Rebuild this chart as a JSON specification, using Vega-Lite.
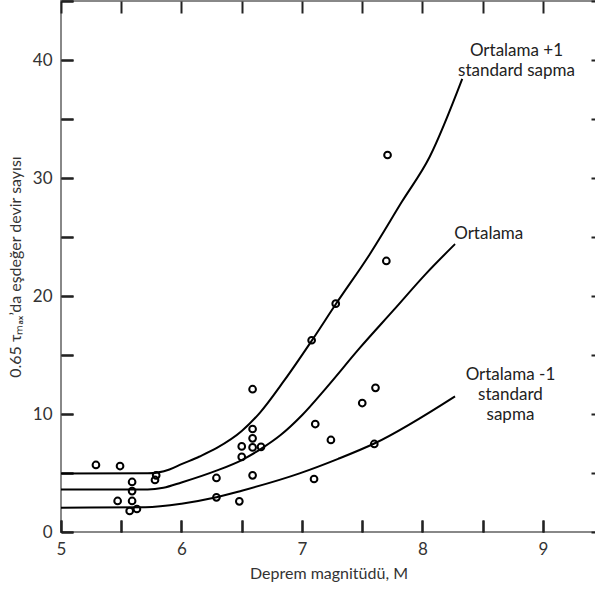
{
  "$schema": "https://vega.github.io/schema/vega-lite/v6.json",
  "width": 535,
  "height": 531,
  "autosize": "none",
  "padding": {"left": 61, "top": 1, "right": 0, "bottom": 59},
  "background": "white",
  "config": {"view": {"stroke": "#888888", "strokeWidth": 2}, "font": "Lato"},
  "datasets": {
    "curves": [
      {"series": "upper", "m": 5.0, "n": 4.95},
      {"series": "upper", "m": 5.72, "n": 4.97},
      {"series": "upper", "m": 5.9, "n": 5.3},
      {"series": "upper", "m": 6.0, "n": 5.75},
      {"series": "upper", "m": 6.15, "n": 6.4},
      {"series": "upper", "m": 6.29, "n": 7.1},
      {"series": "upper", "m": 6.5, "n": 8.55},
      {"series": "upper", "m": 6.65, "n": 10.1},
      {"series": "upper", "m": 6.85, "n": 12.8},
      {"series": "upper", "m": 7.08, "n": 16.2},
      {"series": "upper", "m": 7.28, "n": 19.3},
      {"series": "upper", "m": 7.56, "n": 23.5},
      {"series": "upper", "m": 7.83, "n": 28.0},
      {"series": "upper", "m": 8.06, "n": 31.8},
      {"series": "upper", "m": 8.33, "n": 38.4},
      {"series": "mean", "m": 5.0, "n": 3.6},
      {"series": "mean", "m": 5.72, "n": 3.6},
      {"series": "mean", "m": 5.85, "n": 3.75},
      {"series": "mean", "m": 6.0, "n": 4.2},
      {"series": "mean", "m": 6.29, "n": 5.2},
      {"series": "mean", "m": 6.5, "n": 6.1},
      {"series": "mean", "m": 6.66, "n": 7.05},
      {"series": "mean", "m": 6.82, "n": 8.2},
      {"series": "mean", "m": 7.0, "n": 9.9},
      {"series": "mean", "m": 7.2, "n": 12.2},
      {"series": "mean", "m": 7.48, "n": 15.6},
      {"series": "mean", "m": 7.76, "n": 18.8},
      {"series": "mean", "m": 8.03, "n": 21.9},
      {"series": "mean", "m": 8.27, "n": 24.4},
      {"series": "lower", "m": 5.0, "n": 2.06},
      {"series": "lower", "m": 5.7, "n": 2.1},
      {"series": "lower", "m": 6.0, "n": 2.4},
      {"series": "lower", "m": 6.29, "n": 2.94},
      {"series": "lower", "m": 6.5, "n": 3.5},
      {"series": "lower", "m": 6.98, "n": 4.97},
      {"series": "lower", "m": 7.3, "n": 6.2},
      {"series": "lower", "m": 7.6, "n": 7.5},
      {"series": "lower", "m": 8.27, "n": 11.5}
    ],
    "points": [
      {"m": 5.29, "n": 5.68},
      {"m": 5.49, "n": 5.59},
      {"m": 5.47, "n": 2.63},
      {"m": 5.59, "n": 4.24},
      {"m": 5.59, "n": 3.47},
      {"m": 5.59, "n": 2.63},
      {"m": 5.57, "n": 1.78},
      {"m": 5.63, "n": 1.95},
      {"m": 5.79, "n": 4.8},
      {"m": 5.78, "n": 4.41},
      {"m": 6.29, "n": 4.58},
      {"m": 6.29, "n": 2.94},
      {"m": 6.48, "n": 2.6},
      {"m": 6.5, "n": 7.25},
      {"m": 6.5, "n": 6.36},
      {"m": 6.59, "n": 12.1},
      {"m": 6.59, "n": 8.73},
      {"m": 6.59, "n": 7.94},
      {"m": 6.59, "n": 7.17},
      {"m": 6.66, "n": 7.22},
      {"m": 6.59, "n": 4.8},
      {"m": 7.08, "n": 16.25},
      {"m": 7.28, "n": 19.35},
      {"m": 7.11, "n": 9.15},
      {"m": 7.24, "n": 7.8},
      {"m": 7.1, "n": 4.49},
      {"m": 7.5, "n": 10.93},
      {"m": 7.61, "n": 12.22},
      {"m": 7.6, "n": 7.46},
      {"m": 7.71, "n": 31.95},
      {"m": 7.7, "n": 22.97}
    ],
    "labels": [
      {"m": 8.78, "n": 41.45, "t": ["Ortalama +1", "standard sapma"]},
      {"m": 8.55, "n": 25.95, "t": ["Ortalama"]},
      {"m": 8.73, "n": 14.0, "t": ["Ortalama -1", "standard", "sapma"]}
    ]
  },
  "resolve": {"scale": {"x": "independent", "y": "independent"}, "axis": {"x": "independent", "y": "independent"}},
  "layer": [
    {
      "data": {"name": "curves"},
      "mark": {"type": "line", "color": "black", "strokeWidth": 2, "interpolate": "monotone"},
      "encoding": {
        "x": {
          "field": "m", "type": "quantitative",
          "scale": {"domain": [5, 9.44], "nice": false, "zero": false},
          "axis": {
            "orient": "bottom",
            "title": "Deprem magnitüdü, M",
            "format": "~g",
            "labelExpr": "datum.value % 1 == 0 ? datum.label : ''",
            "offset": -12, "tickSize": 12, "tickColor": "black", "tickWidth": 2,
            "domainOpacity": 0, "gridOpacity": 0,
            "labelFontSize": 17, "labelColor": "#333333", "labelPadding": 9,
            "labelFlush": false,
            "titleFontSize": 16, "titleFontWeight": "normal", "titleColor": "#333333", "titlePadding": 8
          }
        },
        "y": {
          "field": "n", "type": "quantitative",
          "scale": {"domain": [0, 45], "nice": false, "zero": false},
          "axis": {
            "orient": "left",
            "title": "0.65 τₘₐₓ’da eşdeğer devir sayısı",
            "labelExpr": "datum.value % 10 == 0 ? datum.label : ''",
            "offset": -12, "tickSize": 12, "tickColor": "black", "tickWidth": 2,
            "domainOpacity": 0, "gridOpacity": 0,
            "labelFontSize": 17, "labelColor": "#333333", "labelPadding": 9,
            "labelFlush": false,
            "titleFontSize": 16, "titleFontWeight": "normal", "titleColor": "#333333", "titlePadding": 9
          }
        },
        "detail": {"field": "series"}
      }
    },
    {
      "data": {"name": "points"},
      "mark": {"type": "point", "shape": "circle", "filled": false, "stroke": "black", "strokeWidth": 2, "size": 45, "opacity": 1},
      "encoding": {
        "x": {
          "field": "m", "type": "quantitative",
          "scale": {"domain": [5, 9.44], "nice": false, "zero": false},
          "axis": {
            "orient": "top", "offset": -12, "tickSize": 12, "tickColor": "#222222", "tickWidth": 2,
            "gridWidth": 0, "domainWidth": 0, "labelPadding": 100
          }
        },
        "y": {
          "field": "n", "type": "quantitative",
          "scale": {"domain": [0, 45], "nice": false, "zero": false},
          "axis": {
            "orient": "right", "offset": -5, "tickSize": 5, "tickColor": "#222222", "tickWidth": 2,
            "gridWidth": 0, "domainWidth": 0, "labelPadding": 100
          }
        }
      }
    },
    {
      "data": {"name": "labels"},
      "mark": {"type": "text", "fontSize": 17, "lineHeight": 20, "color": "#222222", "align": "center", "baseline": "top", "font": "Lato"},
      "encoding": {
        "x": {
          "field": "m", "type": "quantitative",
          "scale": {"domain": [5, 9.44], "nice": false, "zero": false},
          "axis": {
            "orient": "bottom", "offset": -12, "tickSize": 12, "tickColor": "#222222", "tickWidth": 2,
            "gridWidth": 0, "domainWidth": 0, "labelPadding": 100
          }
        },
        "y": {
          "field": "n", "type": "quantitative",
          "scale": {"domain": [0, 45], "nice": false, "zero": false},
          "axis": {
            "orient": "left", "offset": -12, "tickSize": 12, "tickColor": "#222222", "tickWidth": 2,
            "gridWidth": 0, "domainWidth": 0, "labelPadding": 100
          }
        },
        "text": {"field": "t"}
      }
    }
  ]
}
